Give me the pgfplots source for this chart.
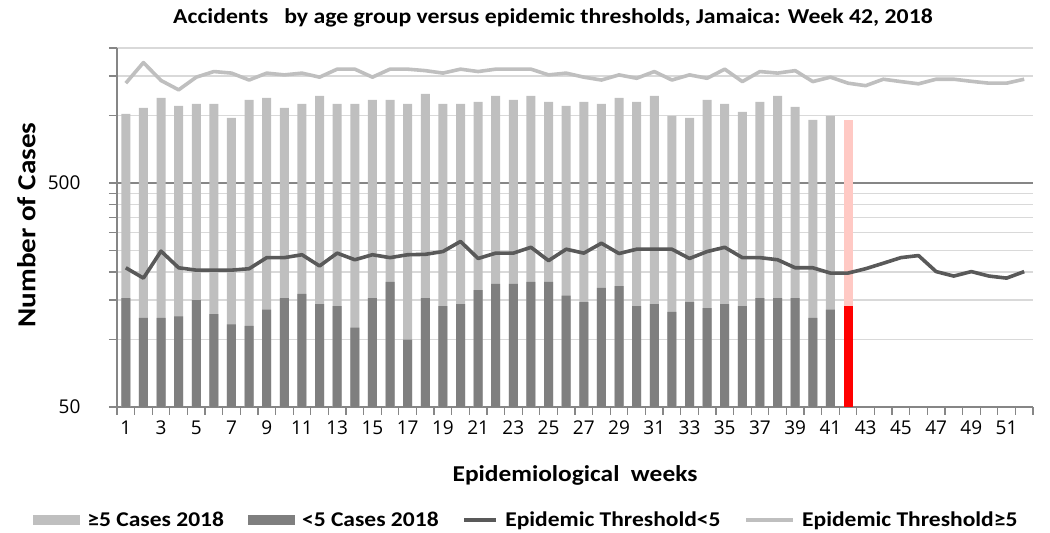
\documentclass[border=0pt]{standalone}
\usepackage{fontspec}
\setmainfont{Carlito}[FakeStretch=1.12]
\newfontfamily\tickfont{Open Sans}
\usepackage{pgfplots}
\usepackage{pgfplotstable}
\pgfplotsset{compat=1.18}
\definecolor{lightbar}{HTML}{BFBFBF}
\definecolor{darkbar}{HTML}{7F7F7F}
\definecolor{thrdark}{HTML}{595959}
\definecolor{gridc}{HTML}{D9D9D9}
\definecolor{axisc}{HTML}{868686}
\definecolor{pinkbar}{HTML}{FFC9C4}

\pgfplotstableread{
w lt ge
1 153 863
2 125 956
3 125 1072
4 127 977
5 150 977
6 130 997
7 117 858
8 115 1059
9 136 1061
10 153 928
11 160 967
12 144 1078
13 141 986
14 113 1014
15 153 1021
16 181 993
17 100 1027
18 153 1095
19 141 986
20 144 983
21 166 984
22 177 1045
23 177 997
24 181 1041
25 181 969
26 157 947
27 147 1003
28 170 957
29 173 1024
30 141 1009
31 144 1078
32 133 862
33 147 828
34 138 1036
35 144 983
36 141 896
37 153 997
38 153 1069
39 153 940
40 125 830
41 136 859
}\bars

\pgfplotstableread{
w lt ge
1 209 1393
2 188 1722
3 248 1432
4 209 1301
5 204 1482
6 204 1570
7 204 1545
8 207 1439
9 232 1545
10 232 1517
11 239 1545
12 213 1482
13 243 1609
14 227 1609
15 239 1482
16 232 1609
17 239 1609
18 240 1585
19 247 1545
20 274 1609
21 230 1570
22 243 1609
23 243 1609
24 258 1609
25 225 1517
26 253 1545
27 243 1482
28 269 1439
29 242 1517
30 253 1465
31 253 1570
32 253 1439
33 230 1517
34 247 1465
35 258 1609
36 232 1416
37 232 1570
38 227 1545
39 209 1585
40 209 1416
41 198 1482
42 198 1393
43 207 1358
44 219 1451
45 232 1416
46 237 1384
47 201 1451
48 192 1451
49 201 1420
50 192 1393
51 188 1393
52 201 1451
}\thr

\begin{document}
\begin{tikzpicture}
\begin{axis}[
  scale only axis, width=916pt, height=359pt,
  ymode=log, ymin=50, ymax=2000, xmin=0.5, xmax=52.5,
  log origin y=infty,
  /pgf/number format/assume math mode=true,
  axis lines=left,
  axis line style={draw=axisc, line width=1.5pt, -},
  tick align=outside,
  xtick={1,3,...,51},
  xticklabel={\pgfmathprintnumber{\tick}},
  major x tick style={draw=none},
  minor xtick={0.5,1.5,...,52.5},
  minor x tick style={draw=axisc, line width=1.2pt},
  ytick={50,500}, yticklabels={50,500},
  minor ytick={100,150,200,250,300,350,400,450,1000,1500,2000},
  major y tick style={draw=axisc, line width=1.2pt},
  minor y tick style={draw=axisc, line width=1.2pt},
  major tick length=8pt, minor tick length=8pt,
  ymajorgrids, yminorgrids,
  major grid style={draw=axisc, line width=1.2pt},
  minor grid style={draw=gridc, line width=1.2pt},
  ticklabel style={font=\tickfont\fontsize{19}{22}\selectfont, text=black},
  xticklabel style={yshift=-2pt},
  yticklabel style={xshift=-25pt},
  title={Accidents\ \ \ by age group versus epidemic thresholds, Jamaica: Week 42, 2018},
  title style={font=\bfseries\fontsize{21.2}{24}\selectfont, at={(axis description cs:0.476,1.066)}, anchor=center, yshift=0pt},
  xlabel={Epidemiological\ \ weeks},
  xlabel style={font=\bfseries\fontsize{22.7}{26}\selectfont, at={(axis description cs:0.5,-0.181)}, anchor=center, yshift=-3pt},
  ylabel={Number of Cases},
  ylabel style={font=\bfseries\fontsize{26}{29}\selectfont, at={(axis description cs:-0.099,0.507)}, anchor=center},
  legend columns=-1,
  legend style={draw=none, fill=none, at={(axis description cs:0.447,-0.315)}, anchor=center,
    font=\bfseries\fontsize{21}{24}\selectfont,
    /tikz/every even column/.append style={column sep=22pt},
    /tikz/every odd column/.append style={column sep=5pt},
    cells={anchor=west}},
]
\addplot[ybar, bar width=9pt, bar shift=0pt, fill=lightbar, draw=none,
  legend image code/.code={\fill[lightbar] (0pt,-5pt) rectangle (47pt,5pt);}]
  table[x=w, y expr=\thisrow{lt}+\thisrow{ge}] {\bars};
\addlegendentry{≥5 Cases 2018}
\addplot[ybar, bar width=9pt, bar shift=0pt, fill=darkbar, draw=none,
  legend image code/.code={\fill[darkbar] (0pt,-5pt) rectangle (47pt,5pt);}]
  table[x=w, y=lt] {\bars};
\addlegendentry{<5 Cases 2018}
\addplot[ybar, bar width=9pt, bar shift=0pt, fill=pinkbar, draw=none, forget plot]
  coordinates {(42,955)};
\addplot[ybar, bar width=9pt, bar shift=0pt, fill=red, draw=none, forget plot]
  coordinates {(42,141)};
\addplot[thrdark, line width=3.6pt, mark=none, line join=round,
  legend image code/.code={\draw[thrdark, line width=3.6pt] (0pt,0pt) -- (32pt,0pt);}]
  table[x=w, y=lt] {\thr};
\addlegendentry{Epidemic Threshold<5}
\addplot[lightbar, line width=3.6pt, mark=none, line join=round,
  legend image code/.code={\draw[lightbar, line width=3.6pt] (0pt,0pt) -- (47pt,0pt);}]
  table[x=w, y=ge] {\thr};
\addlegendentry{Epidemic Threshold≥5}
\end{axis}
\pgfresetboundingbox
\path[use as bounding box] (-117pt,-126pt) rectangle (933pt,407pt);
\end{tikzpicture}
\end{document}
